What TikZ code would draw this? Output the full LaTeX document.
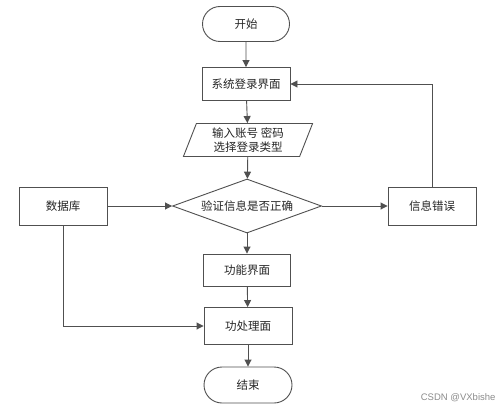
\documentclass[tikz,border=0pt]{standalone}
\usepackage{fontspec}
\newfontfamily\cjk{Noto Sans CJK SC}
\usetikzlibrary{shapes.geometric,shapes.misc,arrows.meta,positioning}
\definecolor{ln}{HTML}{505050}
\tikzset{
  base/.style={draw=ln,line width=0.9pt,font=\cjk\fontsize{11.5}{14}\selectfont,text=black!85,inner sep=0pt,fill=white},
  proc/.style={base,rectangle,minimum width=88pt,minimum height=33pt},
  term/.style={base,rounded rectangle,minimum width=87pt,minimum height=35pt},
  io/.style={base,trapezium,trapezium left angle=70,trapezium right angle=110,minimum width=118pt,minimum height=33pt,trapezium stretches=true,align=center},
  dec/.style={base,diamond,aspect=2.75,minimum width=149pt,minimum height=54pt},
  conn/.style={draw=ln,line width=0.9pt,-{Triangle[length=7pt,width=7pt]}},
}
\begin{document}
\begin{tikzpicture}[x=1pt,y=-1pt]
\useasboundingbox[fill=white] (0,0) rectangle (503,412);
\node[term] (start) at (246,24) {开始};
\node[proc] (login) at (246,84) {系统登录界面};
\node[io,minimum width=130pt] (input) at (248,140) {输入账号 密码\\选择登录类型};
\node[dec] (check) at (247,206) {验证信息是否正确};
\node[proc,minimum height=38pt] (db) at (63,206) {数据库};
\node[proc,minimum height=38pt] (err) at (432,206) {信息错误};
\node[proc,minimum width=87pt,minimum height=32pt] (func) at (247,270) {功能界面};
\node[proc,minimum height=37pt] (proc) at (248,326) {功处理面};
\node[term,minimum width=88pt,minimum height=36pt] (end) at (248,385) {结束};
\node[font=\fontspec{Liberation Sans}\fontsize{9.5}{11}\selectfont,text=black!45,anchor=east] (wm) at (499,398) {CSDN @VXbishe};
\draw[conn] (start) -- (login);
\draw[conn] (login) -- (input);
\draw[conn] (input) -- (check);
\draw[conn] (check) -- (func);
\draw[conn] (func) -- (proc);
\draw[conn] (proc) -- (end);
\draw[conn] (db) -- (check);
\draw[conn] (check) -- (err);
\draw[conn] (err.north) |- (login.east);
\draw[conn] (db.south) |- (proc.west);
\end{tikzpicture}
\end{document}
